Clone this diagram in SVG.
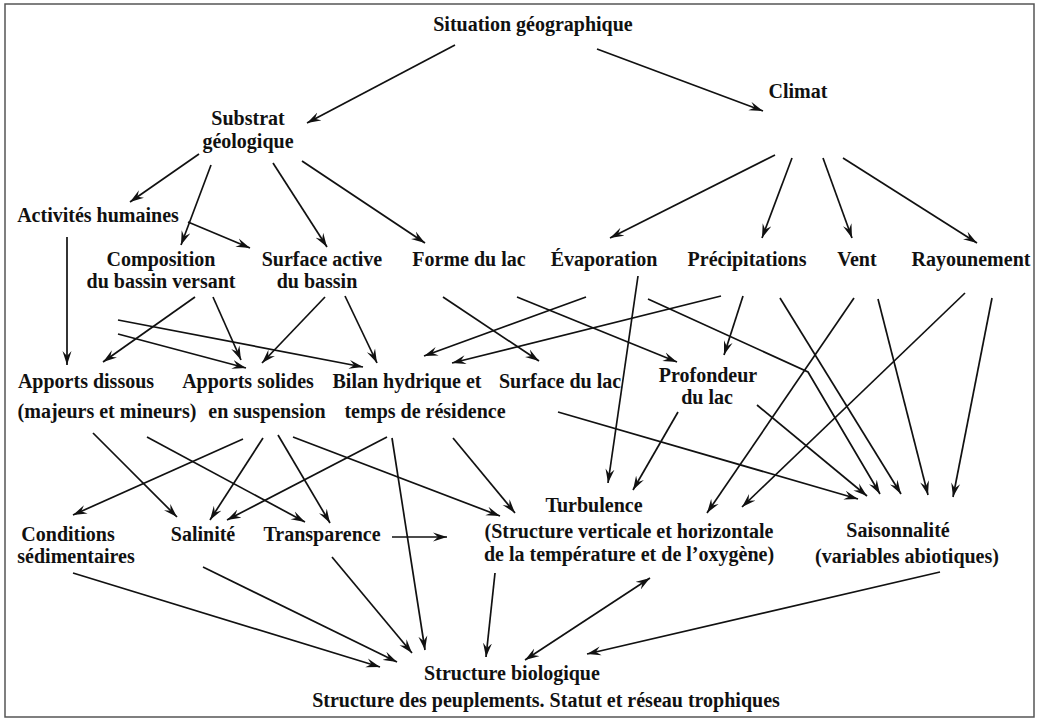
<svg xmlns="http://www.w3.org/2000/svg" width="1042" height="721" viewBox="0 0 1042 721">
<style>
text{font-family:"Liberation Serif","Times New Roman",serif;font-weight:bold;font-size:20px;fill:#111;text-anchor:middle}
.c line,.c polyline{stroke:#111;stroke-width:1.7;fill:none;marker-end:url(#ah)}
.frame{fill:#fff;stroke:#555;stroke-width:1.5}
</style>
<defs>
<marker id="ah" markerUnits="userSpaceOnUse" viewBox="0 0 14 10" markerWidth="14" markerHeight="10" refX="14" refY="5" orient="auto-start-reverse">
<path d="M0,0.5 L14,5 L0,9.5 L5,5 z" fill="#111"/>
</marker>
</defs>
<rect class="frame" x="5" y="4" width="1029" height="713"/>
<g id="n-situation"><text x="533" y="31">Situation géographique</text></g>
<g id="n-substrat"><text x="248" y="125">Substrat</text><text x="248" y="148">géologique</text></g>
<g id="n-climat"><text x="798" y="98">Climat</text></g>
<g id="n-activites"><text x="98" y="222">Activités humaines</text></g>
<g id="n-composition"><text x="161" y="266">Composition</text><text x="161" y="288">du bassin versant</text></g>
<g id="n-surface-active"><text x="322" y="266">Surface active</text><text x="317" y="288">du bassin</text></g>
<g id="n-forme"><text x="469" y="266">Forme du lac</text></g>
<g id="n-evaporation"><text x="604" y="266">Évaporation</text></g>
<g id="n-precipitations"><text x="747" y="266">Précipitations</text></g>
<g id="n-vent"><text x="857" y="266">Vent</text></g>
<g id="n-rayounement"><text x="971" y="266">Rayounement</text></g>
<g id="n-apports-dissous"><text x="86" y="388">Apports dissous</text><text x="107" y="418">(majeurs et mineurs)</text></g>
<g id="n-apports-solides"><text x="248" y="388">Apports solides</text><text x="267" y="418">en suspension</text></g>
<g id="n-bilan"><text x="407" y="388">Bilan hydrique et</text><text x="425" y="418">temps de résidence</text></g>
<g id="n-surface-lac"><text x="560" y="388">Surface du lac</text></g>
<g id="n-profondeur"><text x="708" y="382">Profondeur</text><text x="707" y="404">du lac</text></g>
<g id="n-conditions"><text x="68" y="541">Conditions</text><text x="76" y="563">sédimentaires</text></g>
<g id="n-salinite"><text x="203" y="541">Salinité</text></g>
<g id="n-transparence"><text x="322" y="541">Transparence</text></g>
<g id="n-turbulence"><text x="594" y="512">Turbulence</text><text x="629" y="538">(Structure verticale et horizontale</text><text x="629" y="561">de la température et de l’oxygène)</text></g>
<g id="n-saisonnalite"><text x="898" y="537">Saisonnalité</text><text x="907" y="563">(variables abiotiques)</text></g>
<g id="n-structure"><text x="512" y="680">Structure biologique</text><text x="546" y="707">Structure des peuplements. Statut et réseau trophiques</text></g>
<g id="connectors" class="c">
<line x1="455" y1="45" x2="307" y2="123"/>
<line x1="597" y1="49" x2="763" y2="111"/>
<line x1="199" y1="154" x2="130" y2="202"/>
<line x1="211" y1="165" x2="181" y2="245"/>
<line x1="273" y1="163" x2="327" y2="247"/>
<line x1="302" y1="161" x2="425" y2="243"/>
<line x1="188" y1="222" x2="250" y2="248"/>
<line x1="67" y1="237" x2="67" y2="365"/>
<line x1="775" y1="155" x2="610" y2="238"/>
<line x1="792" y1="158" x2="762" y2="238"/>
<line x1="823" y1="158" x2="852" y2="238"/>
<line x1="843" y1="158" x2="977" y2="243"/>
<line x1="195" y1="297" x2="103" y2="362"/>
<line x1="213" y1="297" x2="241" y2="360"/>
<line x1="118" y1="320" x2="363" y2="367"/>
<line x1="118" y1="334" x2="246" y2="368"/>
<line x1="325" y1="297" x2="262" y2="363"/>
<line x1="345" y1="296" x2="377" y2="363"/>
<line x1="443" y1="297" x2="539" y2="361"/>
<line x1="517" y1="297" x2="677" y2="362"/>
<line x1="586" y1="297" x2="424" y2="356"/>
<line x1="638" y1="276" x2="608" y2="483"/>
<line x1="721" y1="296" x2="452" y2="363"/>
<line x1="743" y1="296" x2="724" y2="355"/>
<polyline points="648,299 808,372 880,494"/>
<line x1="780" y1="298" x2="901" y2="494"/>
<line x1="854" y1="298" x2="707" y2="513"/>
<line x1="878" y1="299" x2="928" y2="495"/>
<line x1="965" y1="293" x2="742" y2="507"/>
<line x1="992" y1="298" x2="953" y2="497"/>
<line x1="678" y1="412" x2="633" y2="490"/>
<line x1="757" y1="405" x2="867" y2="496"/>
<line x1="558" y1="412" x2="858" y2="499"/>
<line x1="93" y1="433" x2="177" y2="517"/>
<line x1="147" y1="437" x2="305" y2="522"/>
<line x1="243" y1="439" x2="73" y2="515"/>
<line x1="263" y1="438" x2="210" y2="520"/>
<line x1="278" y1="435" x2="330" y2="523"/>
<line x1="293" y1="437" x2="500" y2="516"/>
<line x1="387" y1="437" x2="227" y2="520"/>
<line x1="392" y1="438" x2="425" y2="650"/>
<line x1="453" y1="438" x2="515" y2="513"/>
<line x1="392" y1="537" x2="447" y2="537"/>
<line x1="73" y1="573" x2="380" y2="667"/>
<line x1="203" y1="567" x2="397" y2="662"/>
<line x1="332" y1="557" x2="412" y2="653"/>
<line x1="495" y1="573" x2="486" y2="657"/>
<line x1="650" y1="578" x2="525" y2="660" style="marker-start:url(#ah)"/>
<line x1="940" y1="572" x2="587" y2="654"/>
</g>
</svg>
